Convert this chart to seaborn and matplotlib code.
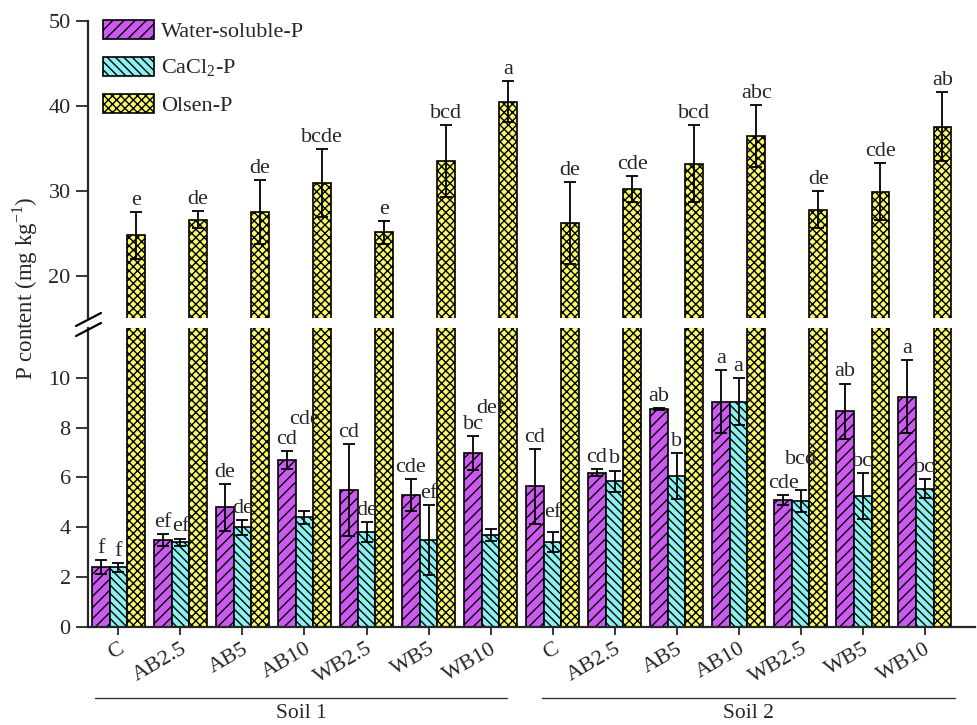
import numpy as np
import pandas as pd
import matplotlib
matplotlib.use("Agg")
import matplotlib.pyplot as plt
from matplotlib.patches import Patch
from matplotlib.lines import Line2D
import seaborn as sns

# ---- data -------------------------------------------------------------
treatments = ["C", "AB2.5", "AB5", "AB10", "WB2.5", "WB5", "WB10"]
soils = ["Soil 1", "Soil 2"]

water_mean = [2.4, 3.5, 4.8, 6.7, 5.5, 5.3, 7.0,
              5.65, 6.2, 8.75, 9.05, 5.1, 8.65, 9.25]
water_sd = [0.27, 0.23, 0.93, 0.35, 1.85, 0.65, 0.68,
            1.5, 0.15, 0.05, 1.27, 0.2, 1.12, 1.45]
water_letters = ["f", "ef", "de", "cd", "cd", "cde", "bc",
                 "cd", "cd", "ab", "a", "cde", "ab", "a"]

cacl2_mean = [2.4, 3.4, 4.0, 4.4, 3.8, 3.5, 3.7,
              3.4, 5.85, 6.05, 9.05, 5.05, 5.25, 5.55]
cacl2_sd = [0.18, 0.15, 0.3, 0.25, 0.4, 1.4, 0.23,
            0.4, 0.43, 0.93, 0.96, 0.45, 0.93, 0.38]
cacl2_letters = ["f", "ef", "de", "cde", "de", "ef", "def",
                 "ef", "b", "b", "a", "bcd", "bc", "bc"]

olsen_mean = [24.75, 26.6, 27.45, 30.9, 25.1, 33.45, 40.5,
              26.2, 30.2, 33.2, 36.5, 27.75, 29.9, 37.55]
olsen_sd = [2.75, 0.97, 3.76, 4.0, 1.33, 4.24, 2.43,
            4.8, 1.5, 4.5, 3.65, 2.16, 3.37, 4.04]
olsen_letters = ["e", "de", "de", "bcde", "e", "bcd", "a",
                 "de", "cde", "bcd", "abc", "de", "cde", "ab"]

fractions = ["Water-soluble-P", "CaCl2-P", "Olsen-P"]
legend_labels = ["Water-soluble-P", r"CaCl$_\mathregular{2}$-P", "Olsen-P"]

# ---- styling ----------------------------------------------------------
colors = ["#CC5AF0", "#8CF0F0", "#F8F86A"]
hatches = ["///", "\\\\\\\\", "xxxx"]
# CaCl2 letters lifted clear of neighbouring labels (bar index -> baseline y)
cacl2_label_y = {3: 7.95, 6: 8.4, 7: 4.2, 11: 6.35}

sns.set_style("ticks")
plt.rcParams["font.family"] = ["Liberation Serif", "DejaVu Serif"]
plt.rcParams["mathtext.fontset"] = "custom"
plt.rcParams["mathtext.rm"] = "Liberation Serif"
plt.rcParams["hatch.linewidth"] = 1.0
plt.rcParams["axes.linewidth"] = 1.6

keys = [f"{s}|{t}" for s in soils for t in treatments]
tick_labels = [t for s in soils for t in treatments]

df = pd.DataFrame({
    "key": keys * 3,
    "fraction": np.repeat(fractions, len(keys)),
    "value": water_mean + cacl2_mean + olsen_mean,
})

W, H = 977, 725
fig = plt.figure(figsize=(W / 100, H / 100), dpi=100)


def fx(px):
    return px / W


def fy(py):
    return 1 - py / H


ax_low = fig.add_axes([fx(88), fy(627), fx(975) - fx(88), fy(328) - fy(627)])
ax_up = fig.add_axes([fx(88), fy(318), fx(975) - fx(88), fy(21) - fy(318)])

bar_sets = {}
for ax in (ax_low, ax_up):
    sns.barplot(data=df, x="key", y="value", hue="fraction",
                order=keys, hue_order=fractions, palette=colors,
                errorbar=None, width=0.85, edgecolor="black", linewidth=1.2,
                saturation=1, legend=False, ax=ax)
    bar_sets[ax] = list(ax.containers)
    for cont, h in zip(bar_sets[ax], hatches):
        for bar in cont:
            bar.set_hatch(h)
    ax.set_xlim(-0.49, 13.81)
    ax.set_xlabel("")
    ax.set_ylabel("")
    for sp in ("top", "right"):
        ax.spines[sp].set_visible(False)

ax_low.set_ylim(0, 12)
ax_up.set_ylim(15, 50)

# error bars and significance letters
means = [water_mean, cacl2_mean, olsen_mean]
sds = [water_sd, cacl2_sd, olsen_sd]
letters = [water_letters, cacl2_letters, olsen_letters]
for k in range(3):
    ax = ax_up if k == 2 else ax_low
    cont = bar_sets[ax][k]
    xs = [b.get_x() + b.get_width() / 2 for b in cont]
    ax.errorbar(xs, means[k], yerr=sds[k], fmt="none", ecolor="black",
                elinewidth=1.3, capsize=4, capthick=1.3, zorder=5)
    for i, x in enumerate(xs):
        if k == 1 and i in cacl2_label_y:
            y, off = cacl2_label_y[i], 0
        else:
            y, off = means[k][i] + sds[k][i], 1.5
        ax.annotate(letters[k][i], (x, y), xytext=(0, off),
                    textcoords="offset points", ha="center", va="bottom",
                    fontsize=16, zorder=6)

# axes decoration
ax_up.spines["bottom"].set_visible(False)
ax_up.tick_params(axis="x", bottom=False, labelbottom=False)
ax_up.set_yticks([20, 30, 40, 50])
ax_low.set_yticks([0, 2, 4, 6, 8, 10])
for ax in (ax_low, ax_up):
    ax.tick_params(axis="y", direction="out", length=8.5, width=1.3,
                   labelsize=16, pad=4)
ax_low.set_xticks(range(len(keys)))
ax_low.set_xticklabels(tick_labels, rotation=30, ha="right", va="top",
                       rotation_mode="anchor", fontsize=16)
ax_low.tick_params(axis="x", direction="out", length=6, width=1.3, pad=3)

# axis break marks on the left spine
for y0 in (326, 336):
    fig.add_artist(Line2D([fx(76), fx(101)], [fy(y0), fy(y0 - 13)],
                          color="black", lw=1.6))

fig.text(fx(25), fy(288), r"P content (mg kg$^{\mathregular{-1}}$)",
         rotation=90, ha="center", va="center", fontsize=16.5)

# soil group brackets
for (x0, x1), name in zip([(95, 507), (542, 955)], soils):
    fig.add_artist(Line2D([fx(x0), fx(x1)], [fy(698), fy(698)],
                          color="#333333", lw=1.0))
    fig.text(fx((x0 + x1) / 2), fy(713), name, ha="center", va="center",
             fontsize=15.5)

handles = [Patch(facecolor=c, edgecolor="black", hatch=h, linewidth=1.2)
           for c, h in zip(colors, hatches)]
ax_up.legend(handles, legend_labels, loc="upper left",
             bbox_to_anchor=(fx(103), fy(20)), bbox_transform=fig.transFigure,
             frameon=False, fontsize=16, handlelength=2.3, handleheight=0.95,
             handletextpad=0.3, labelspacing=0.65, borderpad=0, borderaxespad=0)

fig.savefig("out.png", dpi=100)
